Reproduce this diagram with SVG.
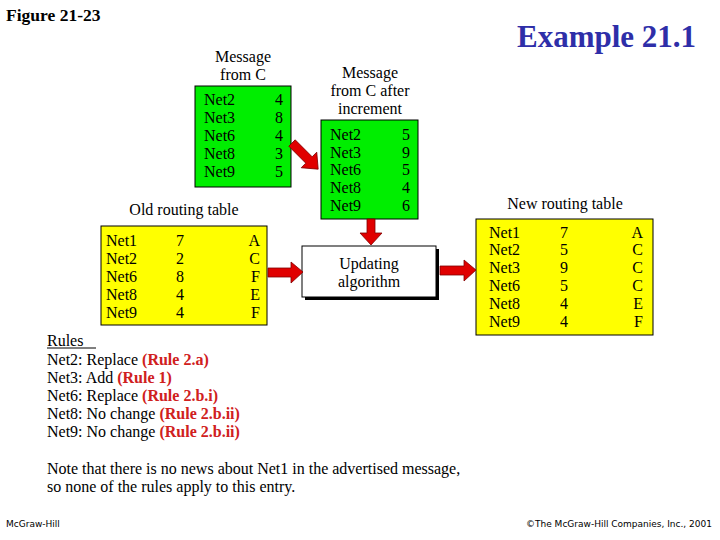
<svg xmlns="http://www.w3.org/2000/svg" width="720" height="540" viewBox="0 0 720 540">
<defs>
<style>
text{font-family:"Liberation Serif","Times New Roman",serif;fill:#000}
.t{font-size:16px}
.lbl{font-size:16px;text-anchor:middle}
.g{fill:#00ee00;stroke:#000;stroke-width:1}
.y{fill:#ffff00;stroke:#000;stroke-width:1}
.arr{fill:#e00000;stroke:#800000;stroke-width:0.8}
.r{font-weight:bold;fill:#d02020}
.end{text-anchor:end}
.foot{font-family:"DejaVu Sans","Liberation Sans",sans-serif;font-size:9px}
</style>
</defs>
<text x="6" y="21" style="font-size:17.5px;font-weight:bold">Figure 21-23</text>
<text x="517" y="47" style="font-size:31px;font-weight:bold;fill:#2e2ea8">Example 21.1</text>

<g id="msgC">
<text class="lbl" x="243" y="62">Message</text>
<text class="lbl" x="243" y="80">from C</text>
<rect class="g" x="195" y="86" width="96" height="101"/>
<text class="t" x="204" y="105">Net2</text><text class="t end" x="283" y="105">4</text>
<text class="t" x="204" y="123">Net3</text><text class="t end" x="283" y="123">8</text>
<text class="t" x="204" y="141">Net6</text><text class="t end" x="283" y="141">4</text>
<text class="t" x="204" y="159">Net8</text><text class="t end" x="283" y="159">3</text>
<text class="t" x="204" y="177">Net9</text><text class="t end" x="283" y="177">5</text>
</g>

<g id="msgInc">
<text class="lbl" x="370" y="78">Message</text>
<text class="lbl" x="370" y="96">from C after</text>
<text class="lbl" x="370" y="114">increment</text>
<rect class="g" x="321" y="120" width="97" height="99"/>
<text class="t" x="330" y="140">Net2</text><text class="t end" x="410" y="140">5</text>
<text class="t" x="330" y="158">Net3</text><text class="t end" x="410" y="158">9</text>
<text class="t" x="330" y="175">Net6</text><text class="t end" x="410" y="175">5</text>
<text class="t" x="330" y="193">Net8</text><text class="t end" x="410" y="193">4</text>
<text class="t" x="330" y="211">Net9</text><text class="t end" x="410" y="211">6</text>
</g>

<g id="oldTable">
<text class="lbl" x="184" y="215">Old routing table</text>
<rect class="y" x="101" y="226" width="166" height="99"/>
<text class="t" x="106" y="246">Net1</text><text class="t" x="176" y="246">7</text><text class="t end" x="260" y="246">A</text>
<text class="t" x="106" y="264">Net2</text><text class="t" x="176" y="264">2</text><text class="t end" x="260" y="264">C</text>
<text class="t" x="106" y="282">Net6</text><text class="t" x="176" y="282">8</text><text class="t end" x="260" y="282">F</text>
<text class="t" x="106" y="300">Net8</text><text class="t" x="176" y="300">4</text><text class="t end" x="260" y="300">E</text>
<text class="t" x="106" y="318">Net9</text><text class="t" x="176" y="318">4</text><text class="t end" x="260" y="318">F</text>
</g>

<g id="update">
<rect x="305" y="249" width="134" height="51" fill="#000"/>
<rect x="302" y="246" width="134" height="51" fill="#fff" stroke="#000" stroke-width="1"/>
<text class="lbl" x="369" y="269">Updating</text>
<text class="lbl" x="369" y="287">algorithm</text>
</g>

<g id="newTable">
<text class="lbl" x="565" y="209">New routing table</text>
<rect class="y" x="476" y="219" width="177" height="116"/>
<text class="t" x="489" y="238">Net1</text><text class="t" x="560" y="238">7</text><text class="t end" x="643" y="238">A</text>
<text class="t" x="489" y="255">Net2</text><text class="t" x="560" y="255">5</text><text class="t end" x="643" y="255">C</text>
<text class="t" x="489" y="273">Net3</text><text class="t" x="560" y="273">9</text><text class="t end" x="643" y="273">C</text>
<text class="t" x="489" y="291">Net6</text><text class="t" x="560" y="291">5</text><text class="t end" x="643" y="291">C</text>
<text class="t" x="489" y="309">Net8</text><text class="t" x="560" y="309">4</text><text class="t end" x="643" y="309">E</text>
<text class="t" x="489" y="327">Net9</text><text class="t" x="560" y="327">4</text><text class="t end" x="643" y="327">F</text>
</g>

<g id="connectors">
<polygon class="arr" transform="translate(292,143) rotate(45)" points="0,-4.5 24,-4.5 24,-11 37,0 24,11 24,4.5 0,4.5"/>
<polygon class="arr" points="367,219 375,219 375,233 382,233 371,245 360,233 367,233"/>
<polygon class="arr" points="268,268 291,268 291,262 303,272 291,283 291,277 268,277"/>
<polygon class="arr" points="440,266 464,266 464,260 476,270 464,281 464,275 440,275"/>
</g>

<g id="rules">
<text class="t" x="47" y="346">Rules</text>
<line x1="47" y1="348" x2="96" y2="348" stroke="#000" stroke-width="1"/>
<text class="t" x="47" y="365">Net2: Replace <tspan class="r">(Rule 2.a)</tspan></text>
<text class="t" x="47" y="383">Net3: Add <tspan class="r">(Rule 1)</tspan></text>
<text class="t" x="47" y="401">Net6: Replace <tspan class="r">(Rule 2.b.i)</tspan></text>
<text class="t" x="47" y="419">Net8: No change <tspan class="r">(Rule 2.b.ii)</tspan></text>
<text class="t" x="47" y="437">Net9: No change <tspan class="r">(Rule 2.b.ii)</tspan></text>
<text class="t" x="47" y="474">Note that there is no news about Net1 in the advertised message,</text>
<text class="t" x="47" y="492">so none of the rules apply to this entry.</text>
</g>

<text class="foot" x="6" y="527">McGraw-Hill</text>
<text class="foot" x="712" y="527" text-anchor="end">©The McGraw-Hill Companies, Inc., 2001</text>
</svg>
